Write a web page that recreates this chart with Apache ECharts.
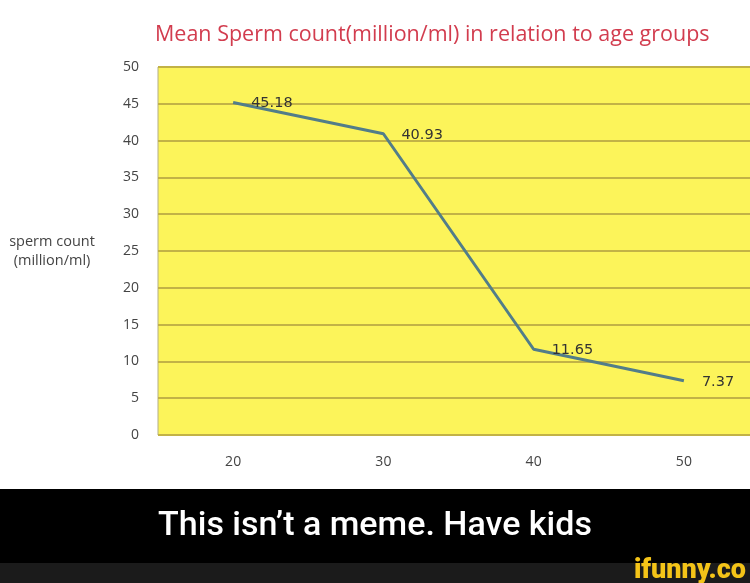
<!DOCTYPE html>
<html><head><meta charset="utf-8">
<script src="https://cdn.jsdelivr.net/npm/echarts@6/dist/echarts.min.js"></script>
<style>html,body{margin:0;padding:0;background:#fff}#c{width:750px;height:583px}</style>
</head><body><div id="c"></div>
<script>
const ageGroups = ['20', '30', '40', '50'];
const meanCount = [45.18, 40.93, 11.65, 7.37];
const titleText = 'Mean Sperm count(million/ml) in relation to age groups';
const yName = 'sperm count\n(million/ml)';
const caption = 'This isn\u2019t a meme. Have kids';
const watermark = 'ifunny.co';

const chart = echarts.init(document.getElementById('c'), null, {renderer: 'canvas'});
chart.setOption({
  backgroundColor: '#ffffff',
  animation: false,
  title: {
    text: titleText, left: 150, top: 19,
    textStyle: {color: '#d23c4e', fontSize: 21.5, fontWeight: 'normal', fontFamily: 'Open Sans'}
  },
  grid: {left: 158, top: 67, width: 601, height: 368, containLabel: false, outerBoundsMode: 'none',
         show: true, backgroundColor: '#fcf45a', borderColor: '#b3ae86', borderWidth: 1},
  xAxis: {
    type: 'category', data: ageGroups, boundaryGap: true,
    axisLine: {show: false}, axisTick: {show: false},
    axisLabel: {color: '#444', fontSize: 14, margin: 20, fontFamily: 'Open Sans'},
    splitLine: {show: false}
  },
  yAxis: {
    type: 'value', min: 0, max: 50, interval: 5,
    name: yName, nameLocation: 'middle', nameRotate: 0, nameGap: 106,
    nameTextStyle: {color: '#444', fontSize: 14.5, fontFamily: 'Open Sans', align: 'center', lineHeight: 19},
    axisLine: {show: false}, axisTick: {show: false},
    axisLabel: {color: '#444', fontSize: 14, margin: 19, fontFamily: 'Open Sans'},
    splitLine: {show: true, lineStyle: {color: '#c2b246', width: 2}}
  },
  series: [{
    type: 'line', data: meanCount, symbol: 'circle', symbolSize: 2, showSymbol: true,
    itemStyle: {color: 'rgba(82,125,137,0)'},
    lineStyle: {color: '#527d89', width: 3},
    label: {show: true, position: 'right', distance: 17, offset: [0, 1], color: '#333', fontSize: 14.5, fontFamily: 'DejaVu Sans'}
  }],
  graphic: [
    {type: 'rect', shape: {x: 0, y: 489, width: 750, height: 75}, style: {fill: '#000'}},
    {type: 'rect', shape: {x: 0, y: 563, width: 750, height: 20}, style: {fill: '#1b1b1b'}},
    {type: 'text', x: 375, y: 526, style: {text: caption, fill: '#fff', font: '500 34px Roboto', textAlign: 'center', textVerticalAlign: 'middle'}},
    {type: 'text', x: 746, y: 571, style: {text: watermark, fill: '#f4c418', font: '900 27px Roboto', textAlign: 'right', textVerticalAlign: 'middle'}}
  ]
});
</script></body></html>
